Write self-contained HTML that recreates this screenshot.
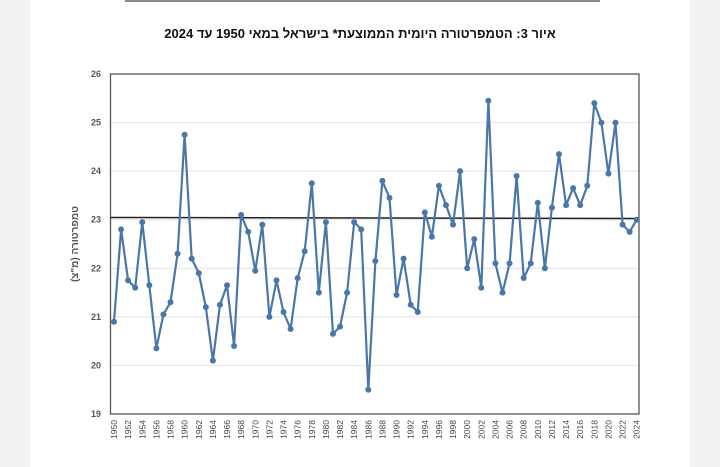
<!DOCTYPE html>
<html><head><meta charset="utf-8">
<style>
html,body{margin:0;padding:0;background:#f2f2f2;}
body{width:720px;height:467px;overflow:hidden;position:relative;font-family:"Liberation Sans",Arial,sans-serif;}
#card{position:absolute;left:30px;top:0;width:660px;height:467px;background:#fff;}
</style></head>
<body>
<div id="card"></div>
<svg id="s" width="720" height="467" style="position:absolute;left:0;top:0" xmlns="http://www.w3.org/2000/svg">
<rect x="125" y="0" width="475" height="2" fill="#8a8a8a"/>
<text x="360" y="38" text-anchor="middle" font-family="Liberation Sans, sans-serif" font-weight="bold" font-size="13" fill="#111" direction="rtl">איור 3: הטמפרטורה היומית הממוצעת* בישראל במאי 1950 עד 2024</text>
<g id="grid"></g>
<rect x="110.5" y="74" width="528.5" height="340" fill="none" stroke="#555" stroke-width="1.3"/>
<line x1="110.5" y1="217.5" x2="639" y2="218.5" stroke="#222" stroke-width="1.5"/>
<g id="data"></g>
<text transform="translate(78,244) rotate(-90)" text-anchor="middle" font-size="10" font-weight="bold" fill="#555" font-family="Liberation Sans, sans-serif" direction="rtl">טמפרטורה (מ"צ)</text>
</svg>
<script>
var v=[20.9,22.8,21.75,21.6,22.95,21.65,20.35,21.05,21.3,22.3,24.75,22.2,21.9,21.2,20.1,21.25,21.65,20.4,23.1,22.75,21.95,22.9,21.0,21.75,21.1,20.75,21.8,22.35,23.75,21.5,22.95,20.65,20.8,21.5,22.95,22.8,19.5,22.15,23.8,23.45,21.45,22.2,21.25,21.1,23.15,22.65,23.7,23.3,22.9,24.0,22.0,22.6,21.6,25.45,22.1,21.5,22.1,23.9,21.8,22.1,23.35,22.0,23.25,24.35,23.3,23.65,23.3,23.7,25.4,25.0,23.95,25.0,22.9,22.75,23.0];
var ns="http://www.w3.org/2000/svg";
function el(t,a,p,txt){var e=document.createElementNS(ns,t);for(var k in a)e.setAttribute(k,a[k]);if(txt)e.textContent=txt;p.appendChild(e);return e;}
var g=document.getElementById('grid'),d=document.getElementById('data');
function Y(t){return 414-(t-19)*48.57;}
function X(i){return 114+i*(636.7-114)/74;}
for(var t=19;t<=26;t++){
 if(t>19&&t<26)el('line',{x1:111,x2:639,y1:Y(t),y2:Y(t),stroke:'#e3e3e3','stroke-width':1},g);
 el('text',{x:101,y:Y(t)+3,'text-anchor':'end','font-size':9,'font-weight':'bold',fill:'#555'},g,String(t));
}
for(var i=0;i<75;i+=2){
 var x=X(i)+3;
 el('text',{transform:'translate('+x+',420) rotate(-90)','text-anchor':'end','font-size':8.5,fill:'#444'},g,String(1950+i));
}
var pts=v.map(function(t,i){return X(i).toFixed(1)+','+Y(t).toFixed(1)}).join(' ');
el('polyline',{points:pts,fill:'none',stroke:'#4a77aa','stroke-width':2.2,'stroke-linejoin':'round'},d);
v.forEach(function(t,i){el('circle',{cx:X(i),cy:Y(t),r:3,fill:'#4a77aa'},d);});
</script>
</body></html>
